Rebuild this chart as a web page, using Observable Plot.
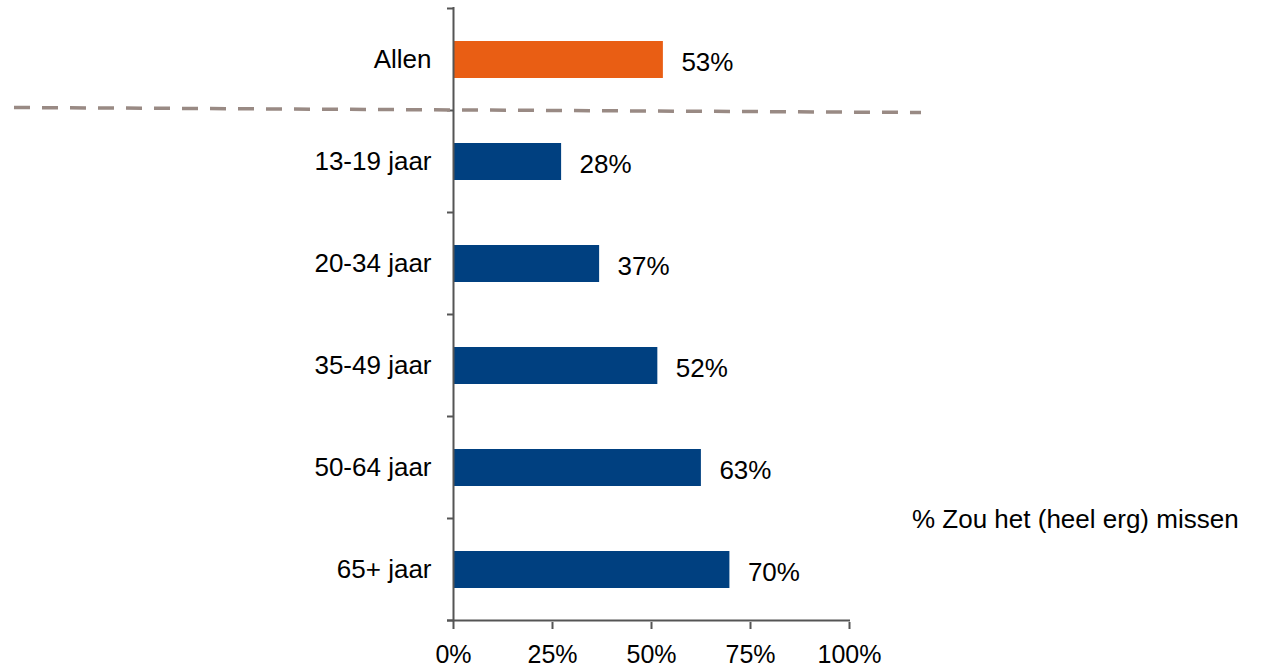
<!DOCTYPE html>
<html>
<head>
<meta charset="utf-8">
<script src="https://cdn.jsdelivr.net/npm/d3@7"></script>
<script src="https://cdn.jsdelivr.net/npm/@observablehq/plot@0.6"></script>
<style>
  html, body { margin: 0; padding: 0; background: #fff; }
  svg { display: block; }
</style>
</head>
<body>
<div id="chart"></div>
<script>
const categories = ["Allen", "13-19 jaar", "20-34 jaar", "35-49 jaar", "50-64 jaar", "65+ jaar"];
const values = [53, 27.3, 36.9, 51.6, 62.6, 69.8];
const valueLabels = ["53%", "28%", "37%", "52%", "63%", "70%"];
const groups = ["totaal", "leeftijd", "leeftijd", "leeftijd", "leeftijd", "leeftijd"];
const xTicks = [0, 25, 50, 75, 100];
const seriesLabel = "% Zou het (heel erg) missen";

const data = categories.map((c, i) => ({cat: c, value: values[i], label: valueLabels[i], group: groups[i]}));

const W = 1261, H = 669;
const font = "'Liberation Sans', Arial, sans-serif";
const FS = 26;
const axisColor = "#555555";

const plot = Plot.plot({
  width: W,
  height: H,
  marginLeft: 453,
  marginRight: 412,
  marginTop: 7,
  marginBottom: 47,
  style: {fontFamily: font, fontSize: FS + "px", color: "#000", background: "#fff", overflow: "visible"},
  x: {domain: [0, 100], ticks: xTicks, tickFormat: d => d + "%"},
  y: {domain: categories, paddingInner: 0.64, paddingOuter: 0.32},
  color: {domain: ["totaal", "leeftijd"], range: ["#e95e14", "#004080"]},
  marks: [
    Plot.barX(data, {y: "cat", x: "value", fill: "group"}),
    Plot.text(data, {y: "cat", x: "value", text: "label", textAnchor: "start", dx: 18, dy: 3, fontSize: FS, fill: "#000"}),
    Plot.axisY({tickSize: 0, tickPadding: 22, fontSize: FS, label: null}),
    Plot.axisX({ticks: xTicks, tickSize: 7, tickPadding: 16, fontSize: 25, label: null, stroke: axisColor, strokeWidth: 2, tickFormat: d => d + "%"}),
    Plot.ruleX([0], {stroke: axisColor, strokeWidth: 2})
  ]
});

document.getElementById("chart").appendChild(plot);

// Band-boundary ticks, axis line, separator and series label drawn from the plot's scales
const svg = d3.select(plot);
const yS = plot.scale("y");
const xS = plot.scale("x");
const step = yS.step, bw = yS.bandwidth;
const x0 = xS.apply(0), x100 = xS.apply(100);
const boundaries = [yS.apply(categories[0]) - (step - bw) / 2].concat(
  categories.map(c => yS.apply(c) + bw + (step - bw) / 2)
);
const g = svg.append("g");
g.selectAll("line.bt").data(boundaries).join("line")
  .attr("x1", x0 - 6).attr("x2", x0)
  .attr("y1", d => d).attr("y2", d => d)
  .attr("stroke", axisColor).attr("stroke-width", 2);
const yBottom = boundaries[boundaries.length - 1];
g.append("line")
  .attr("x1", x0 - 6).attr("x2", x100 + 1)
  .attr("y1", yBottom).attr("y2", yBottom)
  .attr("stroke", axisColor).attr("stroke-width", 2);

// separator between total and age groups
const sep = boundaries[1];
g.append("line")
  .attr("x1", 14).attr("x2", 921)
  .attr("y1", sep - 3).attr("y2", sep + 2)
  .attr("stroke", "#998a84").attr("stroke-width", 3.5)
  .attr("stroke-dasharray", "16,12");

// series label
g.append("text")
  .attr("x", 912).attr("y", yS.apply(categories[4]) + bw + (step - bw) / 2)
  .attr("dy", "0.35em")
  .attr("text-anchor", "start")
  .attr("font-family", font).attr("font-size", FS)
  .attr("fill", "#000")
  .text(seriesLabel);
</script>
</body>
</html>
